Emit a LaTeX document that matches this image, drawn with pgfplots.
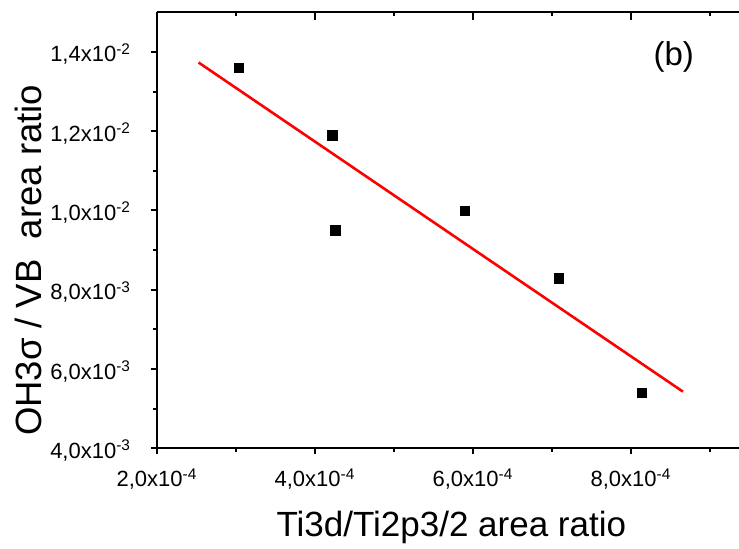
\documentclass[border=0pt]{standalone}
\usepackage{fontspec}
\setmainfont{Liberation Sans}
\usepackage{pgfplots}
\pgfplotsset{compat=1.18}
\newcommand\tl[2]{{\fontsize{22bp}{26bp}\selectfont #1x10\textsuperscript{#2}}}
\begin{document}
\begin{tikzpicture}
\useasboundingbox (-156.7bp,-100.7bp) rectangle (582.3bp,448.3bp);
\begin{axis}[
  at={(0,0)}, anchor=south west,
  scale only axis, width=582.3bp, height=436bp,
  xmin=2e-4, xmax=9.37e-4, ymin=4e-3, ymax=1.5e-2,
  axis x line*=bottom, axis y line*=left,
  axis line style={line width=2.4pt, -},
  tick align=outside,
  major tick length=6bp, minor tick length=3.5bp,
  every tick/.style={line width=2pt, black},
  scaled ticks=false,
  xtick={2e-4,4e-4,6e-4,8e-4},
  minor xtick={3e-4,5e-4,7e-4,9e-4},
  xticklabels={{\tl{2,0}{-4}},{\tl{4,0}{-4}},{\tl{6,0}{-4}},{\tl{8,0}{-4}}},
  ytick={4e-3,6e-3,8e-3,1e-2,1.2e-2,1.4e-2},
  minor ytick={5e-3,7e-3,9e-3,1.1e-2,1.3e-2},
  yticklabels={{\tl{4,0}{-3}},{\tl{6,0}{-3}},{\tl{8,0}{-3}},{\tl{1,0}{-2}},{\tl{1,2}{-2}},{\tl{1,4}{-2}}},
  xticklabel style={anchor=base, inner sep=0pt, yshift=-32.4bp},
  yticklabel style={anchor=base east, inner sep=0pt, xshift=-20bp, yshift=-10bp},
  xlabel={Ti3d/Ti2p3/2 area ratio},
  ylabel={OH3σ / VB\ \ area ratio},
  xlabel style={font=\fontsize{35bp}{40bp}\selectfont, at={(axis description cs:0.506,-0.203)}, anchor=base},
  ylabel style={font=\fontsize{36.5bp}{40bp}\selectfont, at={(axis description cs:-0.197,0.431)}, anchor=base},
  clip=false,
]
\addplot[only marks, mark=square*, mark size=4.7bp, black, mark options={line width=0.3pt}] coordinates {
  (3.04e-4,1.36e-2)
  (4.22e-4,1.19e-2)
  (4.26e-4,9.5e-3)
  (5.90e-4,1.00e-2)
  (7.09e-4,8.29e-3)
  (8.14e-4,5.41e-3)
};
\addplot[red, line width=2.6pt] coordinates {(2.53e-4,1.3733e-2) (8.66e-4,5.43e-3)};
\node[font=\fontsize{33bp}{38bp}\selectfont] at (axis description cs:0.888,0.8975) {(b)};
\end{axis}
\begin{axis}[
  at={(0,0)}, anchor=south west,
  scale only axis, width=582.3bp, height=436bp,
  xmin=2e-4, xmax=9.37e-4, ymin=4e-3, ymax=1.5e-2,
  axis x line*=top, axis y line=none,
  axis line style={line width=2.4pt, -},
  tick align=inside,
  major tick length=8bp, minor tick length=4bp,
  every tick/.style={line width=2pt, black},
  scaled ticks=false,
  xtick={2e-4,4e-4,6e-4,8e-4},
  minor xtick={3e-4,5e-4,7e-4,9e-4},
  xticklabels={},
]
\end{axis}
\end{tikzpicture}
\end{document}
